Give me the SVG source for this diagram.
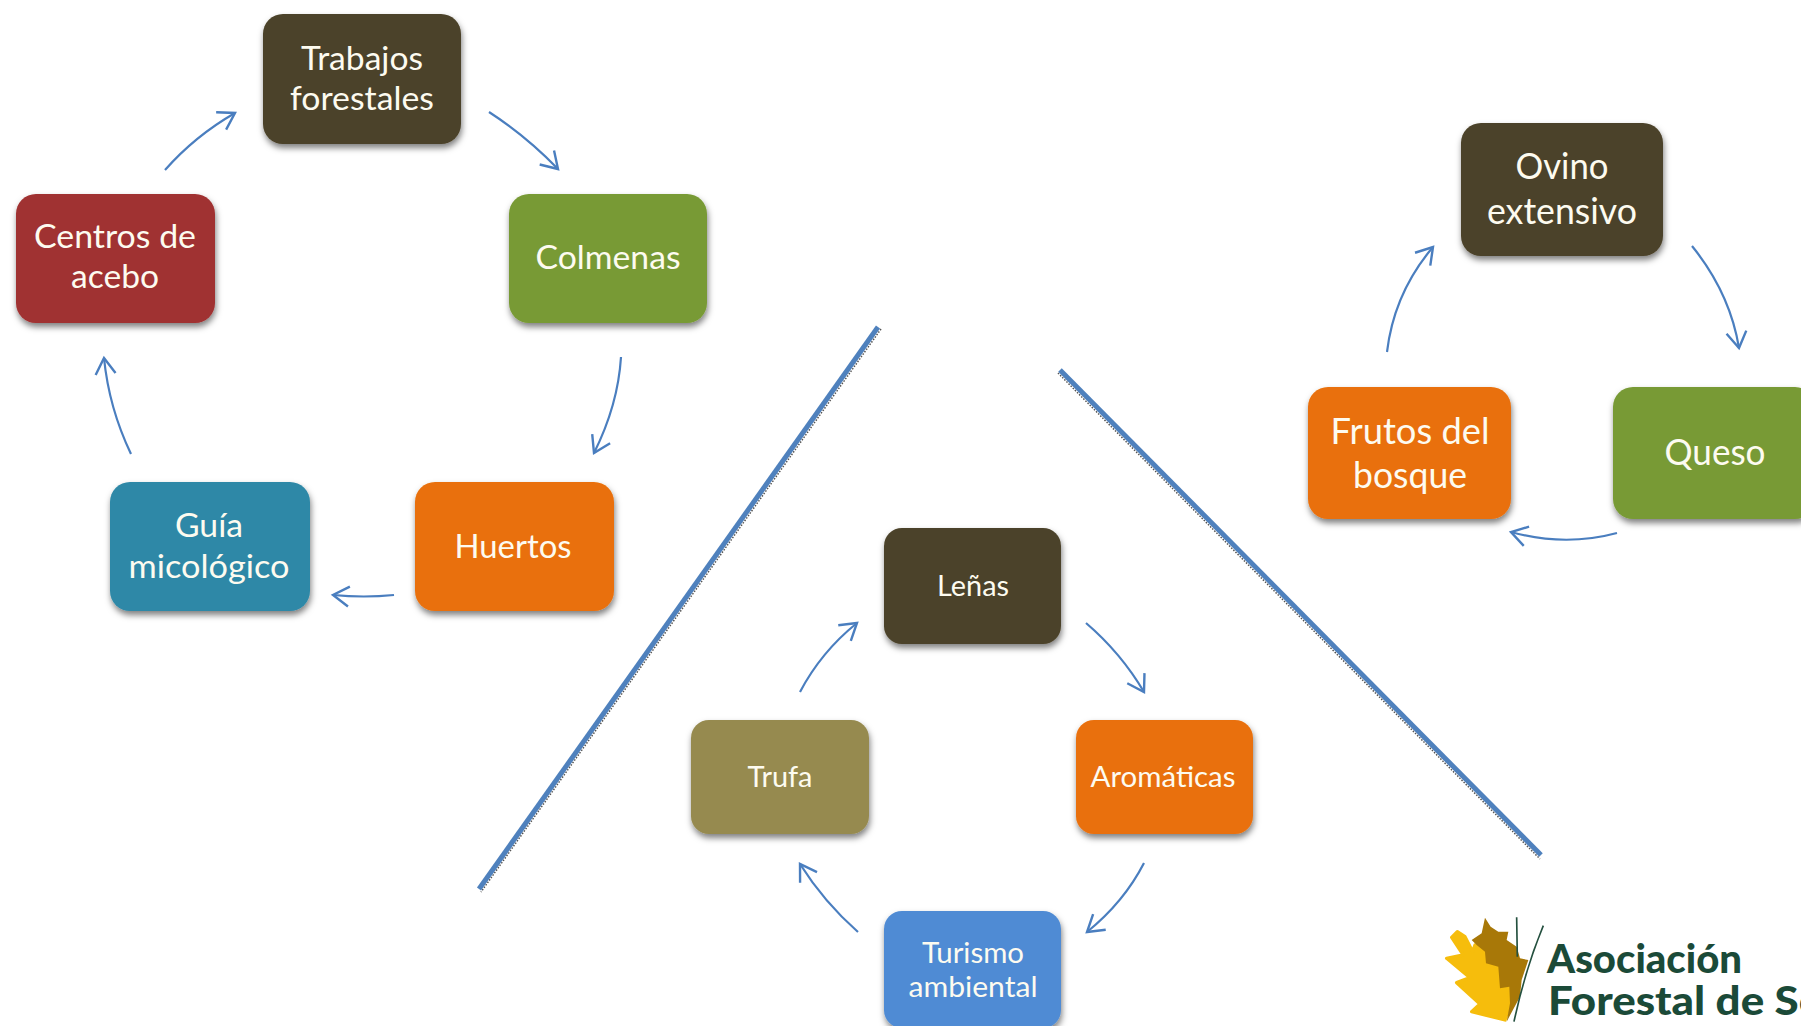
<svg xmlns="http://www.w3.org/2000/svg" width="1801" height="1026" viewBox="0 0 1801 1026">
<style>
text{font-family:"Lato","Open Sans","Liberation Sans",sans-serif;text-anchor:middle;fill:#fdfbf0}
.n{filter:url(#sh)}
.a{fill:none;stroke:#4a7ebf;stroke-width:2.2;marker-end:url(#ah)}
.d{fill:none;stroke:#4f81bd;stroke-width:5}
.ds{fill:none;stroke:#555;stroke-width:1.5;stroke-dasharray:1.5 1.5}
.l{font-size:33px}.m{font-size:28px}.r{font-size:36px}
.logo{font-family:"Lato","Liberation Sans",sans-serif;font-weight:900;font-size:39px;fill:#1b4a38;text-anchor:start}
</style>
<defs>
<filter id="sh" x="-15%" y="-15%" width="130%" height="135%"><feDropShadow dx="1" dy="4" stdDeviation="3" flood-color="#000" flood-opacity=".5"/></filter>
<marker id="ah" markerUnits="userSpaceOnUse" markerWidth="28" markerHeight="28" refX="20" refY="12" orient="auto"><path d="M4 2 L20 12 L4 22" fill="none" stroke="#4a7ebf" stroke-width="2.4"/></marker>
</defs>
<rect width="1801" height="1026" fill="#fff"/>
<g id="connectors">
<path class="a" d="M489 112Q526 136 558 169"/>
<path class="a" d="M621 357Q618 405 594 453"/>
<path class="a" d="M394 595Q364 598 333 595"/>
<path class="a" d="M131 454Q109 408 104 358"/>
<path class="a" d="M165 170Q195 136 235 113"/>
<path class="a" d="M1692 246Q1730 293 1739 348"/>
<path class="a" d="M1617 533Q1565 547 1511 532"/>
<path class="a" d="M1387 352Q1394 293 1433 247"/>
<path class="a" d="M1086 623Q1121 653 1144 692"/>
<path class="a" d="M1144 863Q1124 902 1087 932"/>
<path class="a" d="M858 932Q824 902 800 864"/>
<path class="a" d="M800 692Q821 652 857 623"/>
<path class="ds" d="M881 329L481 892"/><path class="ds" d="M1058 373L1540 859"/>
<path class="d" d="M878 327L479 889"/>
<path class="d" d="M1060 370L1541 855"/>
</g>
<g id="trabajos"><rect class="n" x="263" y="14" width="198" height="130" rx="20" fill="#4b4229"/><text class="l" x="362" y="70" textLength="122" lengthAdjust="spacingAndGlyphs">Trabajos</text><text class="l" x="362" y="110" textLength="144" lengthAdjust="spacingAndGlyphs">forestales</text></g>
<g id="colmenas"><rect class="n" x="509" y="194" width="198" height="129" rx="20" fill="#789a35"/><text class="l" x="608" y="269" textLength="145" lengthAdjust="spacingAndGlyphs">Colmenas</text></g>
<g id="huertos"><rect class="n" x="415" y="482" width="199" height="129" rx="20" fill="#e9700a"/><text class="l" x="513" y="558" textLength="117" lengthAdjust="spacingAndGlyphs">Huertos</text></g>
<g id="guia"><rect class="n" x="110" y="482" width="200" height="129" rx="20" fill="#2f88a7"/><text class="l" x="209" y="537" textLength="68" lengthAdjust="spacingAndGlyphs">Guía</text><text class="l" x="209" y="578" textLength="161" lengthAdjust="spacingAndGlyphs">micológico</text></g>
<g id="centros"><rect class="n" x="16" y="194" width="199" height="129" rx="20" fill="#a03030"/><text class="l" x="115" y="248" textLength="162" lengthAdjust="spacingAndGlyphs">Centros de</text><text class="l" x="115" y="288" textLength="88" lengthAdjust="spacingAndGlyphs">acebo</text></g>
<g id="ovino"><rect class="n" x="1461" y="123" width="202" height="133" rx="20" fill="#4b4229"/><text class="r" x="1562" y="179" textLength="93" lengthAdjust="spacingAndGlyphs">Ovino</text><text class="r" x="1562" y="224" textLength="150" lengthAdjust="spacingAndGlyphs">extensivo</text></g>
<g id="queso"><rect class="n" x="1613" y="387" width="202" height="132" rx="20" fill="#789a35"/><text class="r" x="1715" y="465" textLength="101" lengthAdjust="spacingAndGlyphs">Queso</text></g>
<g id="frutos"><rect class="n" x="1308" y="387" width="203" height="132" rx="20" fill="#e9700a"/><text class="r" x="1410" y="444" textLength="159" lengthAdjust="spacingAndGlyphs">Frutos del</text><text class="r" x="1410" y="488" textLength="114" lengthAdjust="spacingAndGlyphs">bosque</text></g>
<g id="lenas"><rect class="n" x="884" y="528" width="177" height="116" rx="18" fill="#4b4229"/><text class="m" x="973" y="596" textLength="72" lengthAdjust="spacingAndGlyphs">Leñas</text></g>
<g id="aromaticas"><rect class="n" x="1076" y="720" width="177" height="114" rx="18" fill="#e9700a"/><text class="m" x="1163" y="787" textLength="145" lengthAdjust="spacingAndGlyphs">Aromáticas</text></g>
<g id="turismo"><rect class="n" x="884" y="911" width="177" height="117" rx="18" fill="#4f8bd4"/><text class="m" x="973" y="963" textLength="102" lengthAdjust="spacingAndGlyphs">Turismo</text><text class="m" x="973" y="997" textLength="129" lengthAdjust="spacingAndGlyphs">ambiental</text></g>
<g id="trufa"><rect class="n" x="691" y="720" width="178" height="114" rx="18" fill="#968a4f"/><text class="m" x="780" y="787" textLength="65" lengthAdjust="spacingAndGlyphs">Trufa</text></g>
<g id="logo">
<g transform="translate(1400 880) scale(.3333)">
<path fill="#f6bd0c" stroke="#f6bd0c" stroke-width="10" stroke-linejoin="round" d="M315 420L215 395L240 372L170 308L210 293L140 235L190 225L155 172L172 155L195 170L218 215L225 195L255 215L255 250L295 260L300 325L325 320L330 370Z"/>
<path fill="#a87808" d="M255 113L272 140L295 155L325 155L320 180L350 200L360 235L385 240L365 300L360 350L320 425L330 370L328 320L300 325L295 260L258 250L255 215L230 195L215 180L245 160Z"/>
<path fill="none" stroke="#24503f" stroke-width="5" d="M350 112L352 230M430 137Q375 270 342 425"/>
</g>
<text class="logo" x="1547" y="973" textLength="195" lengthAdjust="spacingAndGlyphs">Asociación</text>
<text class="logo" x="1548" y="1015" textLength="276" lengthAdjust="spacingAndGlyphs">Forestal de So</text>
</g>
</svg>
